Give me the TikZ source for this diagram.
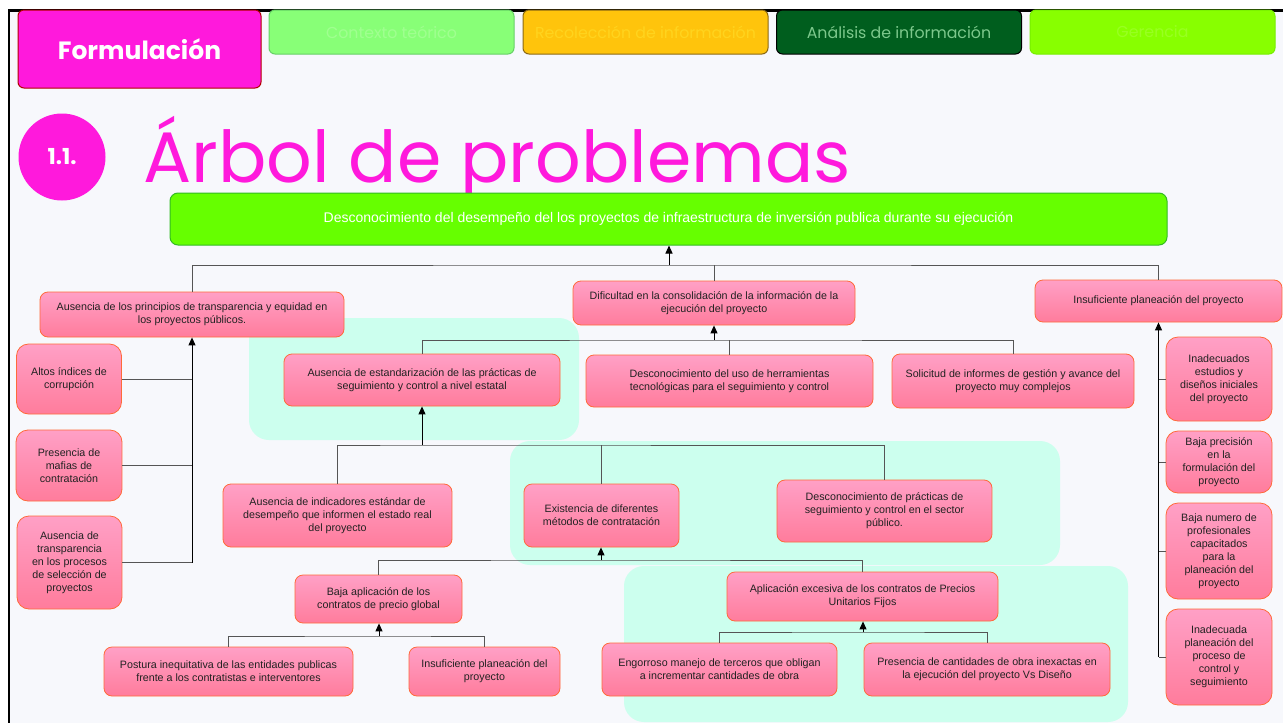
\documentclass[tikz,border=0pt]{standalone}
\usepackage{fontspec}
\setmainfont{Liberation Sans}
\newfontfamily\gothic{Poppins}
\usepackage{tikz}
\usetikzlibrary{arrows.meta,positioning,calc}

\definecolor{pagebg}{HTML}{F7F8FC}
\definecolor{fmagenta}{HTML}{FF19DC}
\definecolor{rootgreen}{HTML}{66FF00}
\definecolor{rootline}{HTML}{33BB22}
\definecolor{panelcyan}{HTML}{CCFFEE}
\definecolor{probtop}{HTML}{FFA0C6}
\definecolor{probbot}{HTML}{FF7C9C}
\definecolor{probline}{HTML}{FF6A3A}
\definecolor{probtext}{HTML}{222222}
\definecolor{linkgray}{HTML}{555555}

\begin{document}
\begin{tikzpicture}[x=1pt, y=-1pt,
    prob/.style={draw=probline, line width=0.8pt, top color=probtop, bottom color=probbot,
      rounded corners=8pt, align=center, text=probtext, inner sep=2pt,
      font=\fontsize{10.7}{13}\selectfont},
    tab/.style={rounded corners=6pt, line width=1pt, minimum width=245pt, minimum height=44pt,
      font=\gothic\fontsize{15.8}{18}\selectfont},
    link/.style={draw=linkgray, line width=0.9pt},
    up/.style={draw=black, line width=1pt, -{Triangle[length=8pt,width=7pt]}},
    panel/.style={fill=panelcyan, rounded corners=20pt}]
  \useasboundingbox (0,0) rectangle (1283,723);
  % page
  \fill[white] (0,0) rectangle (1283,723);
  \fill[pagebg] (9,10) rectangle (1283,723);
  \draw[black, line width=3pt] (8,10) -- (1283,10);
  \draw[black, line width=2pt] (9,10) -- (9,723);

  % tabs
  \node[tab, draw=red!70!black, fill=fmagenta, minimum width=243pt, minimum height=78pt, text=white,
    font=\gothic\bfseries\fontsize{25}{28}\selectfont] (formu) at (139.5,49) {Formulación};
  \node[tab, draw=green!70!black!60, fill={rgb,255:red,136;green,255;blue,119}, text={rgb,255:red,160;green,255;blue,144}] (contexto) at (391.5,32) {Contexto teórico};
  \node[tab, draw={rgb,255:red,139;green,105;blue,20}, fill={rgb,255:red,255;green,196;blue,12}, text={rgb,255:red,255;green,212;blue,30}] (recoleccion) at (645.5,32) {Recolección de información};
  \node[tab, draw=black, fill={rgb,255:red,0;green,94;blue,30}, text={rgb,255:red,125;green,200;blue,140}] (analisis) at (899,32) {Análisis de información};
  \node[tab, draw={rgb,255:red,119;green,238;blue,0}, fill={rgb,255:red,136;green,255;blue,0}, text={rgb,255:red,153;green,255;blue,34}] (gerencia) at (1152.5,32) {Gerencia};

  % title
  \node[circle, fill=fmagenta, minimum size=87pt, inner sep=0, text=white,
    font=\gothic\bfseries\fontsize{22}{22}\selectfont] (num) at (62,157) {1.1.};
  \node[anchor=base west, inner sep=0, text=fmagenta, font=\gothic\fontsize{71.5}{72}\selectfont] (title) at (143,182) {Árbol de problemas};

  % panels
  \fill[panel] (249,318) rectangle (579,440);
  \fill[panel] (510,441) rectangle (1060,565);
  \fill[panel] (624,566) rectangle (1128,722);

  % effect
  \node[draw=rootline, fill=rootgreen, rounded corners=8pt, line width=1pt, minimum width=997pt, minimum height=52pt,
    text=white, font=\fontsize{14}{16}\selectfont] (root) at (668.5,219)
    {Desconocimiento del desempeño del los proyectos de infraestructura de inversión publica durante su ejecución};

  % first level
  \node[prob, minimum width=304pt, minimum height=45pt] (a1) at (192,314.5) {Ausencia de los principios de transparencia y equidad en\\los proyectos públicos.};
  \node[prob, minimum width=282pt, minimum height=44pt] (a2) at (714,303) {Dificultad en la consolidación de la información de la\\ejecución del proyecto};
  \node[prob, minimum width=247pt, minimum height=42pt] (a3) at (1158.5,301) {Insuficiente planeación del proyecto};

  % left column
  \node[prob, rounded corners=12pt, minimum width=105pt, minimum height=70pt] (c1) at (69,379) {Altos índices de\\corrupción};
  \node[prob, rounded corners=12pt, minimum width=106pt, minimum height=71pt] (c2) at (69,465.5) {Presencia de\\mafias de\\contratación};
  \node[prob, rounded corners=12pt, minimum width=105pt, minimum height=93pt] (c3) at (69.5,562.5) {Ausencia de\\transparencia\\en los procesos\\de selección de\\proyectos};

  % middle
  \node[prob, minimum width=276pt, minimum height=52pt] (b1) at (422,380) {Ausencia de estandarización de las prácticas de\\seguimiento y control a nivel estatal};
  \node[prob, minimum width=287pt, minimum height=52pt] (b2) at (729.5,381) {Desconocimiento del uso de herramientas\\tecnológicas para el seguimiento y control};
  \node[prob, minimum width=242pt, minimum height=54pt] (b3) at (1013,381) {Solicitud de informes de gestión y avance del\\proyecto muy complejos};

  \node[prob, minimum width=229pt, minimum height=63pt] (d1) at (337.5,515.5) {Ausencia de indicadores estándar de\\desempeño que informen el estado real\\del proyecto};
  \node[prob, minimum width=155pt, minimum height=63pt] (d2) at (601.5,515.5) {Existencia de diferentes\\métodos de contratación};
  \node[prob, minimum width=215pt, minimum height=62pt] (d3) at (884.5,511) {Desconocimiento de prácticas de\\seguimiento y control en el sector\\público.};

  \node[prob, minimum width=167pt, minimum height=48pt] (e1) at (378.5,599) {Baja aplicación de los\\contratos de precio global};
  \node[prob, minimum width=271pt, minimum height=49pt] (e2) at (862.5,596.5) {Aplicación excesiva de los contratos de Precios\\Unitarios Fijos};

  \node[prob, minimum width=249pt, minimum height=49pt] (f1) at (228.5,671.5) {Postura inequitativa de las entidades publicas\\frente a los contratistas e interventores};
  \node[prob, minimum width=151pt, minimum height=49pt] (f2) at (484.5,671.5) {Insuficiente planeación del\\proyecto};
  \node[prob, minimum width=235pt, minimum height=53pt] (g1) at (719.5,669.5) {Engorroso manejo de terceros que obligan\\a incrementar cantidades de obra};
  \node[prob, minimum width=246pt, minimum height=53pt] (g2) at (987,669.5) {Presencia de cantidades de obra inexactas en\\la ejecución del proyecto Vs Diseño};

  % right column
  \node[prob, rounded corners=12pt, minimum width=106pt, minimum height=84pt] (h1) at (1219,379) {Inadecuados\\estudios y\\diseños iniciales\\del proyecto};
  \node[prob, rounded corners=12pt, minimum width=106pt, minimum height=62pt] (h2) at (1219,462) {Baja precisión\\en la\\formulación del\\proyecto};
  \node[prob, rounded corners=12pt, minimum width=106pt, minimum height=96pt] (h3) at (1219,551) {Baja numero de\\profesionales\\capacitados\\para la\\planeación del\\proyecto};
  \node[prob, rounded corners=12pt, minimum width=106pt, minimum height=96pt] (h4) at (1219,657) {Inadecuada\\planeación del\\proceso de\\control y\\seguimiento};

  % junctions
  \coordinate (j0) at (669,265);
  \coordinate (j1) at (714,340);
  \coordinate (j2) at (422,445);
  \coordinate (j3) at (601,560);
  \coordinate (j4) at (379,636);
  \coordinate (j5) at (863,632);

  % connectors
  \draw[link] (a1.north) |- (j0) -| (a3.north);
  \draw[link] (a2.north) -- (a2.north |- j0);
  \draw[up] (j0) -- (j0 |- root.south);

  \foreach \c in {c1,c2,c3}
    \draw[link] (\c.east) -- (\c.east -| a1.south);
  \draw[up] (c3.east -| a1.south) -- (a1.south);

  \draw[link] (b1.north) |- (j1) -| (b3.north);
  \draw[link] (b2.north) -- (b2.north |- j1);
  \draw[up] (j1) -- (a2.south);

  \draw[link] (d1.north) |- (j2) -| (d3.north);
  \draw[link] (d2.north) -- (d2.north |- j2);
  \draw[up] (j2) -- (b1.south);

  \draw[link] (e1.north) |- (j3) -| (e2.north);
  \draw[up] (j3) -- (j3 |- d2.south);

  \draw[link] (f1.north) |- (j4) -| (f2.north);
  \draw[up] (j4) -- (j4 |- e1.south);

  \draw[link] (g1.north) |- (j5) -| (g2.north);
  \draw[up] (j5) -- (j5 |- e2.south);

  \foreach \h in {h1,h2,h3,h4}
    \draw[link] (\h.west) -- (\h.west -| a3.south);
  \draw[up] (h4.west -| a3.south) -- (a3.south);
\end{tikzpicture}
\end{document}
